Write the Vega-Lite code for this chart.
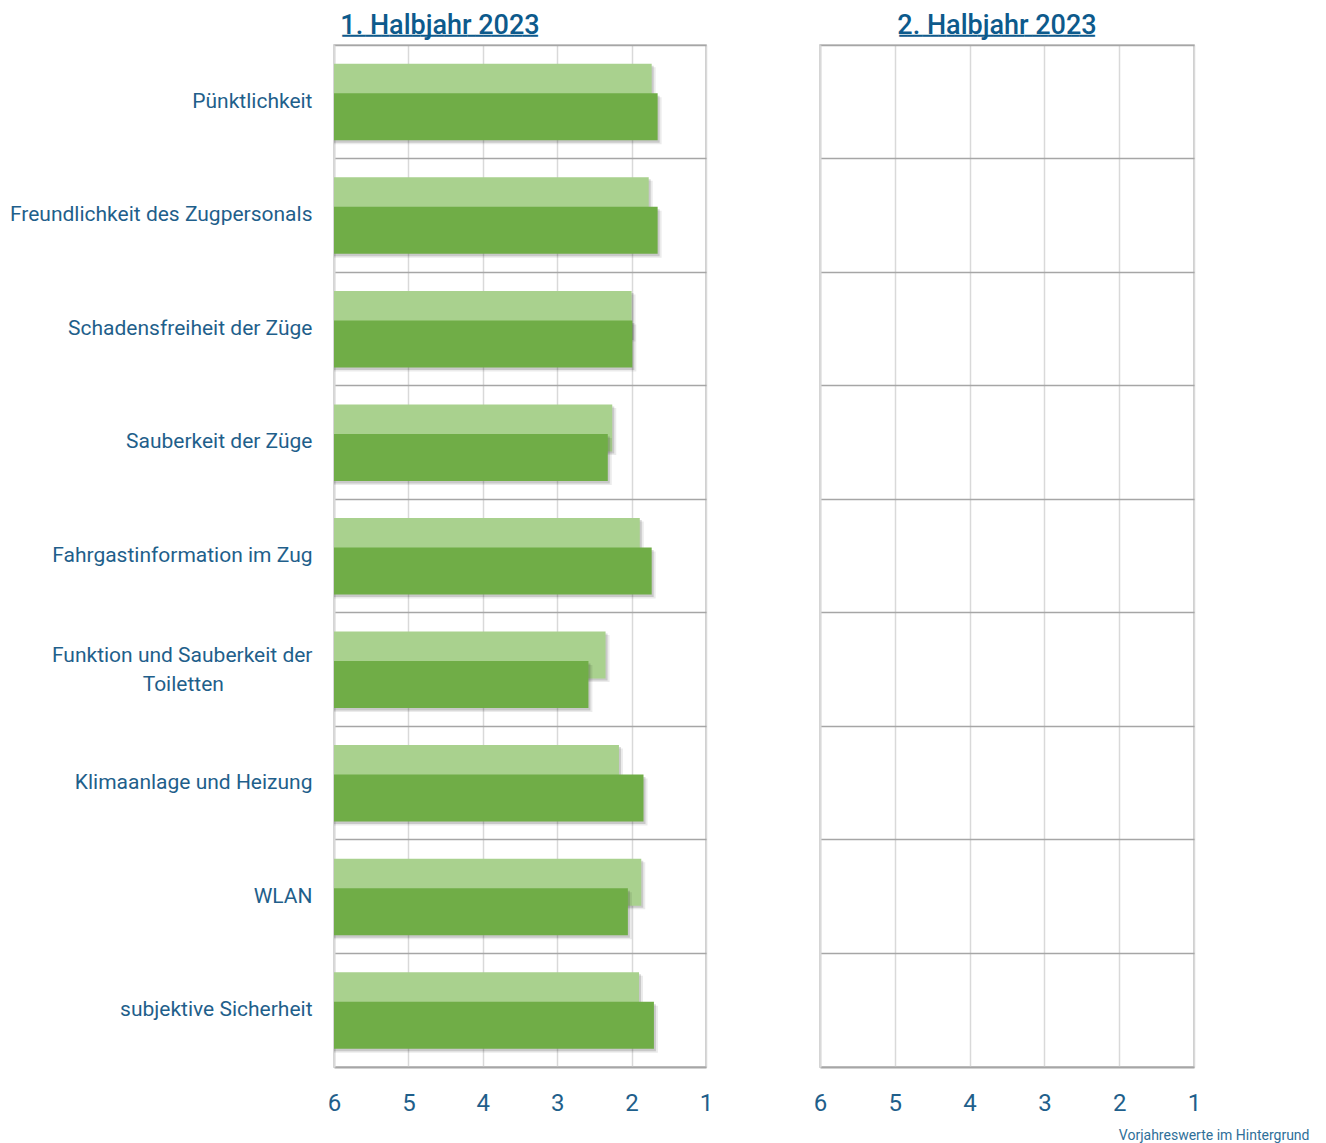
{
  "$schema": "https://vega.github.io/schema/vega-lite/v6.json",
  "background": "white",
  "padding": {"left": 0, "top": 11, "right": 0, "bottom": 0},
  "spacing": 98,
  "config": {
    "font": "Roboto",
    "view": {"stroke": "#bfbfbf", "strokeWidth": 1.5},
    "title": {"fontSize": 27, "fontWeight": 500, "color": "#0d5a8c", "offset": 1,
      "subtitleFont": "DejaVu Sans Mono", "subtitleFontSize": 13, "subtitleColor": "#0d5a8c", "subtitlePadding": -10}
  },
  "title": {"text": "Vorjahreswerte im Hintergrund", "orient": "bottom", "anchor": "end", "fontSize": 14, "fontWeight": "normal", "color": "#2f6f99", "dx": 108, "offset": 13},
  "data": {"values": [
    {"cat": "Pünktlichkeit", "prev": 1.73, "cur": 1.65},
    {"cat": "Freundlichkeit des Zugpersonals", "prev": 1.77, "cur": 1.65},
    {"cat": "Schadensfreiheit der Züge", "prev": 2.0, "cur": 1.99},
    {"cat": "Sauberkeit der Züge", "prev": 2.26, "cur": 2.32},
    {"cat": "Fahrgastinformation im Zug", "prev": 1.89, "cur": 1.73},
    {"cat": "Funktion und Sauberkeit der Toiletten", "prev": 2.35, "cur": 2.58},
    {"cat": "Klimaanlage und Heizung", "prev": 2.17, "cur": 1.84},
    {"cat": "WLAN", "prev": 1.87, "cur": 2.05},
    {"cat": "subjektive Sicherheit", "prev": 1.9, "cur": 1.7}
  ]},
  "hconcat": [
    {
      "width": 372,
      "height": 1022,
      "title": {"text": "1. Halbjahr 2023", "subtitle": "━━━━━━━━━━━━━━━━━━━━━━━━━", "dx": -80},
      "encoding": {
        "y": {
          "field": "cat", "type": "nominal", "sort": null,
          "scale": {"domain": ["Pünktlichkeit", "Freundlichkeit des Zugpersonals", "Schadensfreiheit der Züge", "Sauberkeit der Züge", "Fahrgastinformation im Zug", "Funktion und Sauberkeit der Toiletten", "Klimaanlage und Heizung", "WLAN", "subjektive Sicherheit"], "paddingInner": 0, "paddingOuter": 0},
          "axis": {
            "title": null, "grid": true, "gridColor": "#a6a6a6", "gridWidth": 1.5, "bandPosition": 0,
            "ticks": false, "domainColor": "#d9d9d9", "domainWidth": 2,
            "labelFontSize": 21, "labelColor": "#1f5f8b", "labelPadding": 22, "labelLimit": 400, "labelLineHeight": 29,
            "labelOffset": {"condition": {"test": "datum.value == 'Funktion und Sauberkeit der Toiletten'", "value": -14}, "value": 0},
            "labelExpr": "datum.value == 'Funktion und Sauberkeit der Toiletten' ? ['Funktion und Sauberkeit der', 'Toiletten\u00a0\u00a0\u00a0\u00a0\u00a0\u00a0\u00a0\u00a0\u00a0\u00a0\u00a0\u00a0\u00a0\u00a0\u00a0\u00a0\u00a0\u200b'] : datum.value",
            "minExtent": 333, "maxExtent": 333
          }
        },
        "x2": {"datum": 6}
      },
      "layer": [
        {
          "mark": {"type": "bar", "height": 47, "yOffset": -11, "xOffset": 4, "color": "#000000", "opacity": 0.08},
          "encoding": {"x": {"field": "prev", "type": "quantitative", "scale": {"domain": [1, 6], "reverse": true, "zero": false, "nice": false},
            "axis": {"title": null, "values": [1, 2, 3, 4, 5, 6], "format": "d", "labelFlush": false, "grid": true, "gridColor": "#d9d9d9", "gridWidth": 1.5, "ticks": false, "labelFontSize": 24, "labelColor": "#1f5f8b", "labelPadding": 24, "domainColor": "#a6a6a6", "domainWidth": 2}}}
        },
        {
          "mark": {"type": "bar", "height": 47, "yOffset": -12.5, "xOffset": 2, "color": "#000000", "opacity": 0.14},
          "encoding": {"x": {"field": "prev", "type": "quantitative"}}
        },
        {
          "mark": {"type": "bar", "height": 47, "yOffset": -14.5, "color": "#a9d18e"},
          "encoding": {"x": {"field": "prev", "type": "quantitative"}}
        },
        {
          "mark": {"type": "bar", "height": 47, "yOffset": 19, "xOffset": 4, "color": "#000000", "opacity": 0.08},
          "encoding": {"x": {"field": "cur", "type": "quantitative"}}
        },
        {
          "mark": {"type": "bar", "height": 47, "yOffset": 17.5, "xOffset": 2, "color": "#000000", "opacity": 0.14},
          "encoding": {"x": {"field": "cur", "type": "quantitative"}}
        },
        {
          "mark": {"type": "bar", "height": 47, "yOffset": 15, "color": "#70ad47"},
          "encoding": {"x": {"field": "cur", "type": "quantitative"}}
        }
      ]
    },
    {
      "width": 374,
      "height": 1022,
      "title": {"text": "2. Halbjahr 2023", "subtitle": "━━━━━━━━━━━━━━━━━━━━━━━━━", "dx": -10},
      "mark": {"type": "bar", "height": 47, "color": "#70ad47"},
      "encoding": {
        "y": {
          "field": "cat", "type": "nominal", "sort": null,
          "scale": {"domain": ["Pünktlichkeit", "Freundlichkeit des Zugpersonals", "Schadensfreiheit der Züge", "Sauberkeit der Züge", "Fahrgastinformation im Zug", "Funktion und Sauberkeit der Toiletten", "Klimaanlage und Heizung", "WLAN", "subjektive Sicherheit"], "paddingInner": 0, "paddingOuter": 0},
          "axis": {"title": null, "grid": true, "gridColor": "#a6a6a6", "gridWidth": 1.5, "bandPosition": 0, "ticks": false, "labels": false, "domainColor": "#d9d9d9", "domainWidth": 2, "minExtent": 0, "maxExtent": 0}
        },
        "x": {"field": "h2", "type": "quantitative", "scale": {"domain": [1, 6], "reverse": true, "zero": false, "nice": false},
          "axis": {"title": null, "values": [1, 2, 3, 4, 5, 6], "format": "d", "labelFlush": false, "grid": true, "gridColor": "#d9d9d9", "gridWidth": 1.5, "ticks": false, "labelFontSize": 24, "labelColor": "#1f5f8b", "labelPadding": 24, "domainColor": "#a6a6a6", "domainWidth": 2}},
        "x2": {"datum": 6}
      }
    }
  ]
}
